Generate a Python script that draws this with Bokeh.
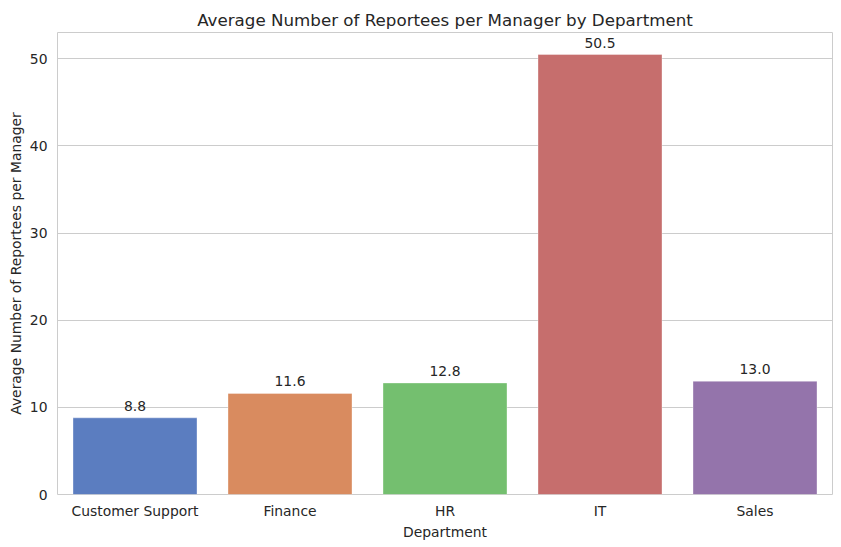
from bokeh.plotting import figure
from bokeh.models import ColumnDataSource, FactorRange, Range1d
from bokeh.embed import file_html
from bokeh.resources import INLINE
from bokeh.core.properties import value

departments = ["Customer Support", "Finance", "HR", "IT", "Sales"]
avg_reportees = [8.8, 11.6, 12.8, 50.5, 13.0]
bar_colors = ["#5b7dc0", "#d98b5f", "#74bf6f", "#c66e6d", "#9474ab"]
bar_labels = [f"{v:.1f}" for v in avg_reportees]
y_ticks = [0, 10, 20, 30, 40, 50]

src = ColumnDataSource(dict(dept=departments, val=avg_reportees, color=bar_colors, label=bar_labels))

FONT = "DejaVu Sans"
TXT = "#262626"

p = figure(
    x_range=FactorRange(*departments),
    y_range=Range1d(0, max(avg_reportees) * 1.05),
    frame_width=775, frame_height=462,
    min_border_left=57, min_border_right=1, min_border_top=32, min_border_bottom=40,
    output_backend="svg", toolbar_location=None,
    title="Average Number of Reportees per Manager by Department",
)

p.vbar(x="dept", top="val", width=0.8, source=src, fill_color="color",
       line_color="white", line_alpha=0.35, line_width=1)
p.text(x="dept", y="val", text="label", source=src, text_align="center",
       text_baseline="bottom", y_offset=-7, text_font=value(FONT),
       text_font_size="13.9px", text_color=TXT)

p.title.align = "center"
p.title.text_font = FONT
p.title.text_font_size = "16.7px"
p.title.text_font_style = "normal"
p.title.text_color = TXT
p.title.standoff = 6

p.outline_line_color = "#cccccc"
p.outline_line_width = 1
p.xgrid.grid_line_color = None
p.ygrid.grid_line_color = "#cccccc"
p.yaxis.ticker = y_ticks

for ax in (p.xaxis[0], p.yaxis[0]):
    ax.axis_line_color = None
    ax.major_tick_line_color = None
    ax.minor_tick_line_color = None
    ax.major_label_text_font = FONT
    ax.major_label_text_font_size = "13.9px"
    ax.major_label_text_color = TXT
    ax.axis_label_text_font = FONT
    ax.axis_label_text_font_size = "13.9px"
    ax.axis_label_text_font_style = "normal"
    ax.axis_label_text_color = TXT

p.xaxis.axis_label = "Department"
p.yaxis.axis_label = "Average Number of Reportees per Manager"
p.xaxis.major_label_standoff = 2
p.xaxis.axis_label_standoff = 2
p.yaxis.major_label_standoff = 4
p.yaxis.axis_label_standoff = 3

open("out.html", "w").write(file_html(p, INLINE))
